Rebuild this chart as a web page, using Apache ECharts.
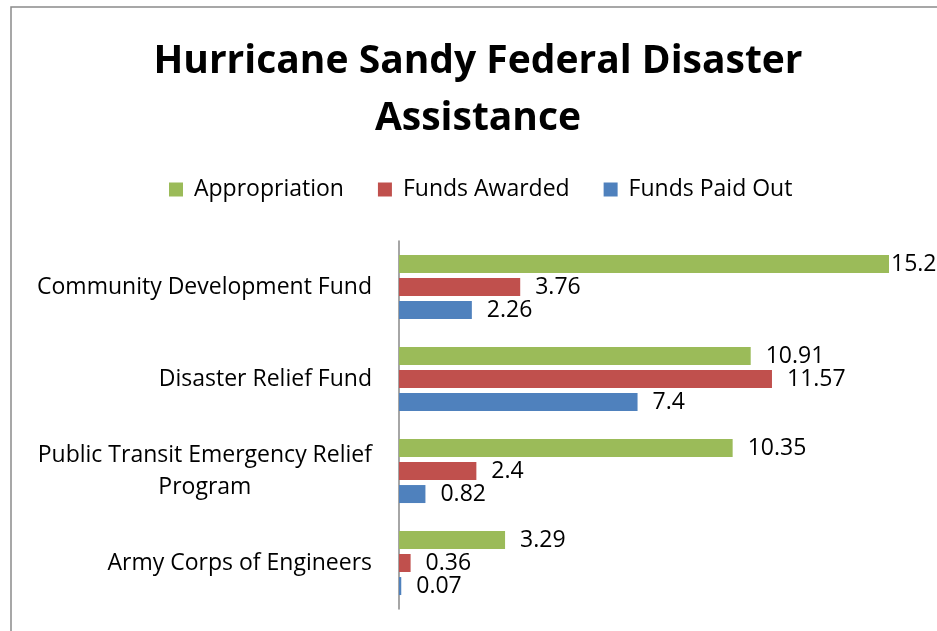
<!DOCTYPE html>
<html>
<head>
<meta charset="utf-8">
<script src="https://cdn.jsdelivr.net/npm/echarts@6/dist/echarts.min.js"></script>
<style>html,body{margin:0;padding:0;background:#fff}#c{width:937px;height:631px}</style>
</head>
<body>
<div id="c"></div>
<script>
const categories = ['Community Development Fund', 'Disaster Relief Fund', 'Public Transit Emergency Relief\nProgram', 'Army Corps of Engineers'];
const appropriation = [15.2, 10.91, 10.35, 3.29];
const fundsAwarded = [3.76, 11.57, 2.4, 0.36];
const fundsPaidOut = [2.26, 7.4, 0.82, 0.07];
const seriesNames = ['Appropriation', 'Funds Awarded', 'Funds Paid Out'];
const colors = ['#9BBB59', '#C0504D', '#4F81BD'];
const FONT = 'Open Sans';
const xMax = Math.max(...appropriation, ...fundsAwarded, ...fundsPaidOut);

function mk(vals) {
  return vals.map(v => ({ value: v, label: { distance: v === xMax ? 2 : 15 } }));
}
const chart = echarts.init(document.getElementById('c'));
const lbl = { show: true, position: 'right', color: '#000', fontFamily: FONT, fontSize: 23 };
chart.setOption({
  animation: false,
  color: colors,
  textStyle: { fontFamily: FONT },
  graphic: [{ type: 'rect', shape: { x: 11, y: 7, width: 940, height: 640 }, style: { fill: 'none', stroke: '#8a8a8a', lineWidth: 1.5 }, silent: true }],
  title: {
    text: 'Hurricane Sandy Federal Disaster\nAssistance',
    left: 473, top: 28, textAlign: 'center',
    textStyle: { fontFamily: FONT, fontSize: 39, fontWeight: 'bold', color: '#000', lineHeight: 57 }
  },
  legend: {
    top: 173, left: 164, itemWidth: 14, itemHeight: 14, itemGap: 34,
    icon: 'rect',
    textStyle: { fontFamily: FONT, fontSize: 23, color: '#000', padding: [0, 0, 0, 6] },
    data: seriesNames
  },
  grid: { left: 399, top: 241, width: 490, height: 368, containLabel: false },
  xAxis: { type: 'value', min: 0, max: xMax, show: false },
  yAxis: {
    type: 'category', inverse: true, data: categories,
    axisLine: { show: true, lineStyle: { color: '#888', width: 1.5 } },
    axisTick: { show: false },
    axisLabel: {
      margin: 27, color: '#000', fontFamily: FONT, fontSize: 23,
      formatter: v => v.split('\n').map(s => '{c|' + s + '}').join('\n'),
      rich: { c: { align: 'center', fontFamily: FONT, fontSize: 23, color: '#000', lineHeight: 32 } }
    }
  },
  series: [
    { name: seriesNames[0], type: 'bar', data: mk(appropriation), barWidth: 18, barGap: '28%', label: lbl },
    { name: seriesNames[1], type: 'bar', data: mk(fundsAwarded), barWidth: 18, barGap: '28%', label: lbl },
    { name: seriesNames[2], type: 'bar', data: mk(fundsPaidOut), barWidth: 18, barGap: '28%', label: lbl }
  ]
});
</script>
</body>
</html>
